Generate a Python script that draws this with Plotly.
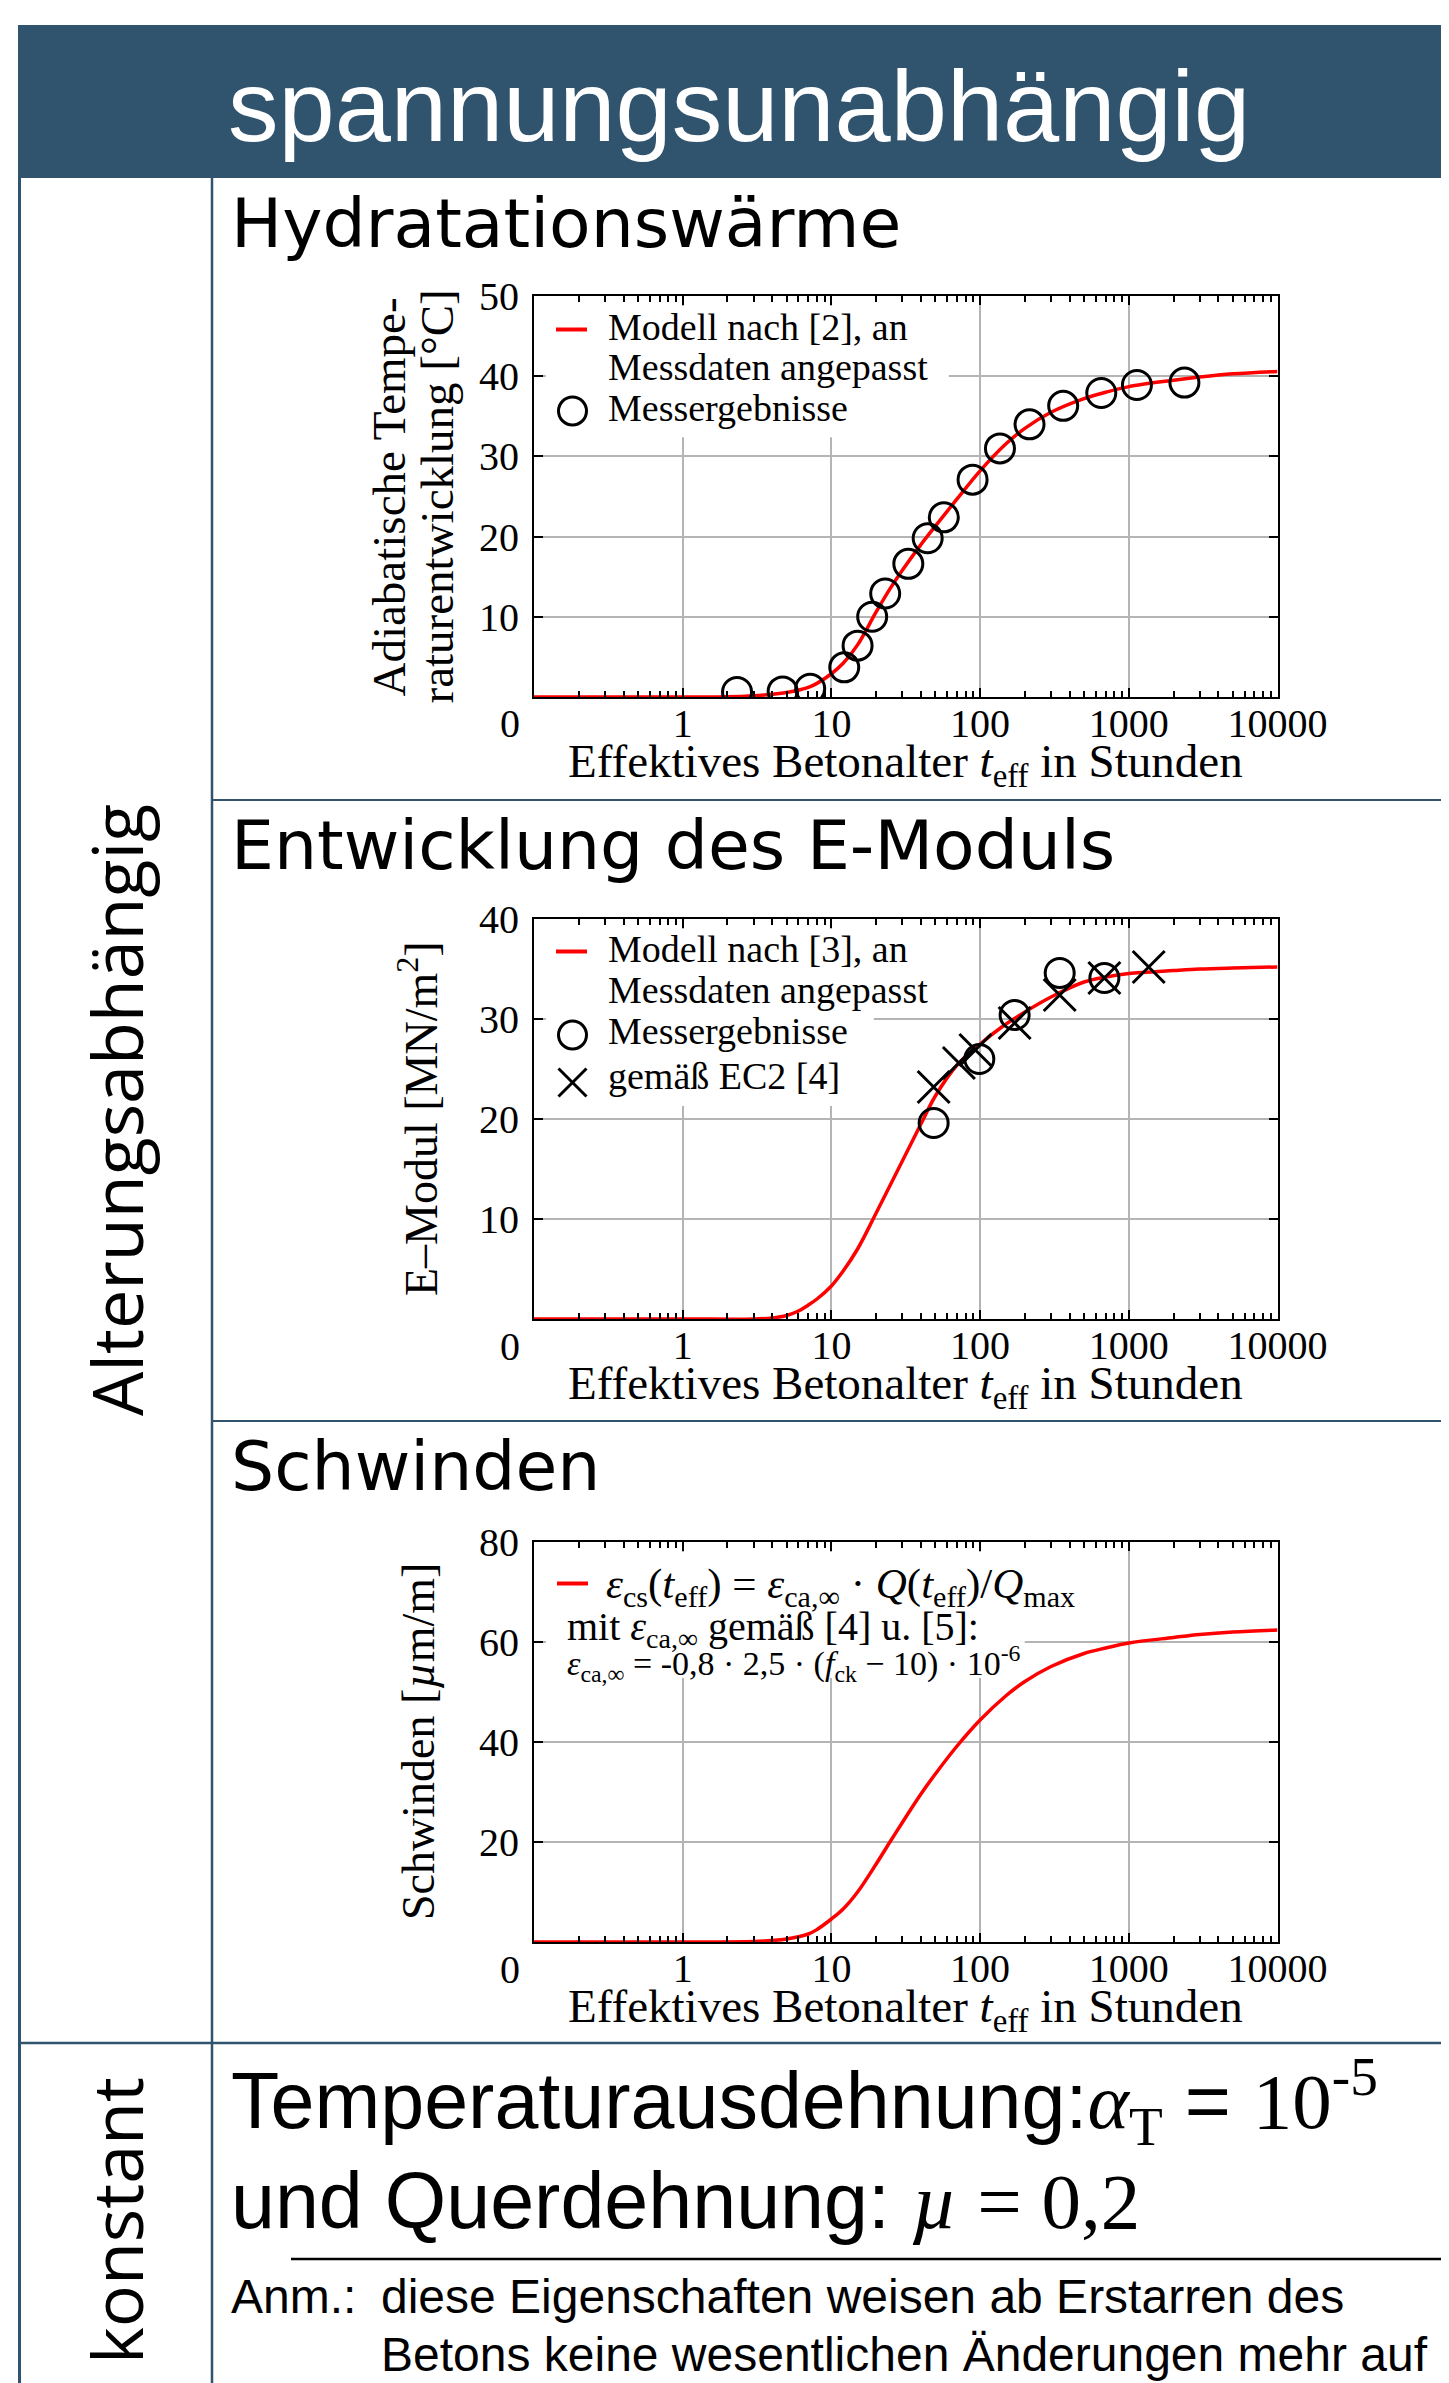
import plotly.graph_objects as go

# ------------------------------------------------------------------ data
# Hydratationswärme: adiabatic temperature rise [°C] vs effective age [h]
hyd_model_t = [0.1, 1, 2, 3, 4, 5, 7, 8, 10, 12, 15, 20, 25, 30, 40, 50, 70,
               100, 150, 200, 300, 500, 700, 1000, 2000, 3000, 5000, 10000]
hyd_model_T = [0, 0, 0.02, 0.15, 0.33, 0.55, 1.2, 1.7, 2.9, 4.2, 6.5, 10.6,
               13.6, 15.8, 19.0, 21.3, 24.7, 28.2, 31.6, 33.5, 35.5, 37.2,
               38.0, 38.7, 39.5, 39.9, 40.3, 40.6]
hyd_meas_t = [2.32, 4.7, 7.2, 12.2, 15.0, 18.8, 23.0, 32.9, 44.4, 57.0, 89,
              136, 215, 362, 653, 1134, 2366]
hyd_meas_T = [0.62, 0.7, 1.03, 3.7, 6.4, 10.0, 12.9, 16.6, 19.8, 22.4, 27.1,
              31.0, 34.0, 36.3, 37.9, 38.9, 39.2]

# E-Modul [MN/m²]
emod_model_t = [0.1, 1, 3, 4, 5, 6, 7, 8, 10, 12, 15, 20, 30, 40, 50, 70, 100,
                140, 200, 300, 500, 700, 1000, 2000, 3000, 5000, 10000]
emod_model_E = [0, 0, 0, 0.1, 0.35, 0.8, 1.4, 2.0, 3.3, 4.8, 7.0, 10.6, 15.8,
                19.5, 22.3, 25.4, 27.5, 29.2, 30.7, 32.2, 33.7, 34.2, 34.55,
                34.85, 35.0, 35.1, 35.2]
emod_meas_t = [48.7, 98.8, 170.7, 343, 685]
emod_meas_E = [19.6, 26.0, 30.4, 34.6, 34.1]
emod_ec2_t = [48.7, 72, 93, 170.7, 343, 685, 1361]
emod_ec2_E = [23.2, 25.6, 26.9, 29.6, 32.4, 34.1, 35.2]

# Schwinden [µm/m]
shr_model_t = [0.1, 1, 3, 4, 5, 7, 8, 10, 12, 15, 20, 25, 30, 40, 50, 70, 100,
               150, 200, 300, 500, 700, 1000, 2000, 3000, 5000, 10000]
shr_model_S = [0, 0, 0.1, 0.3, 0.6, 1.6, 2.5, 4.6, 6.6, 10.0, 15.6, 20.2,
               23.9, 29.6, 33.6, 39.2, 44.4, 49.3, 52.1, 55.1, 57.7, 58.8,
               59.8, 60.9, 61.5, 62.0, 62.4]

# ticks
x_tick_vals = [1, 10, 100, 1000, 10000]
x_tick_text = ["1", "10", "100", "1000", "10000"]
x_minor_vals = [m * 10.0 ** e for e in range(-1, 4) for m in range(2, 10)]
hyd_y_ticks = [10, 20, 30, 40, 50]
emod_y_ticks = [10, 20, 30, 40]
shr_y_ticks = [20, 40, 60, 80]

# ------------------------------------------------------------------ layout helpers
OFF = 8                      # default page margin of the html body
FW, FH = 1449, 2383
RIGHT, BOTTOM = OFF + FW, OFF + FH      # page coords of the figure edges
BLUE = "#31546E"
SERIF = "Liberation Serif"
SANS = "Liberation Sans"
RED = "#FF0000"


def px(x):
    return (x - OFF) / FW


def py(y):
    return 1 - (y - OFF) / FH


AX_X0, AX_X1 = 534, 1277.5
plots = [
    dict(top=296, bot=697, yr=[0, 50], yt=hyd_y_ticks),
    dict(top=919, bot=1319, yr=[0, 40], yt=emod_y_ticks),
    dict(top=1542, bot=1942, yr=[0, 80], yt=shr_y_ticks),
]

fig = go.Figure()

layout = dict(width=FW, height=FH, autosize=False,
              margin=dict(l=0, r=0, t=0, b=0, pad=0, autoexpand=False),
              paper_bgcolor="white", plot_bgcolor="white", showlegend=False)

for i, p in enumerate(plots, start=1):
    sfx = "" if i == 1 else str(i)
    layout["xaxis" + sfx] = dict(
        domain=[px(AX_X0), px(AX_X1)], anchor="y" + sfx, type="log",
        range=[-1, 4], tickmode="array", tickvals=x_tick_vals,
        ticktext=x_tick_text, ticks="inside", ticklen=9, tickwidth=2,
        tickcolor="black", showline=True, linecolor="black", linewidth=2,
        mirror="ticks", showgrid=True, gridcolor="#b4b4b4", gridwidth=1.5,
        zeroline=False, ticklabelstandoff=-10, automargin=False,
        tickfont=dict(family=SERIF, size=40, color="black"),
        minor=dict(tickmode="array", tickvals=x_minor_vals, ticks="inside",
                   ticklen=6, tickwidth=1.5, tickcolor="black",
                   showgrid=False),
    )
    layout["yaxis" + sfx] = dict(
        domain=[py(p["bot"]), py(p["top"])], anchor="x" + sfx,
        range=p["yr"], tickmode="array", tickvals=p["yt"],
        ticks="inside", ticklen=9, tickwidth=2, tickcolor="black",
        showline=True, linecolor="black", linewidth=2, mirror="ticks",
        showgrid=True, gridcolor="#b4b4b4", gridwidth=1.5, zeroline=False,
        ticklabelstandoff=5, automargin=False,
        tickfont=dict(family=SERIF, size=40, color="black"),
    )

fig.update_layout(**layout)

# ------------------------------------------------------------------ traces
line_style = dict(color=RED, width=3.5, shape="spline", smoothing=1.0)
circle_style = dict(symbol="circle-open", size=29, color="black",
                    line=dict(color="black", width=3))
x_style = dict(symbol="x-thin-open", size=32, color="black",
               line=dict(color="black", width=3))

fig.add_trace(go.Scatter(x=hyd_model_t, y=hyd_model_T, mode="lines",
                         line=line_style, xaxis="x", yaxis="y",
                         name="Modell nach [2], an Messdaten angepasst"))
fig.add_trace(go.Scatter(x=hyd_meas_t, y=hyd_meas_T, mode="markers",
                         marker=circle_style, xaxis="x", yaxis="y",
                         name="Messergebnisse"))

fig.add_trace(go.Scatter(x=emod_model_t, y=emod_model_E, mode="lines",
                         line=line_style, xaxis="x2", yaxis="y2",
                         name="Modell nach [3], an Messdaten angepasst"))
fig.add_trace(go.Scatter(x=emod_meas_t, y=emod_meas_E, mode="markers",
                         marker=circle_style, xaxis="x2", yaxis="y2",
                         name="Messergebnisse"))
fig.add_trace(go.Scatter(x=emod_ec2_t, y=emod_ec2_E, mode="markers",
                         marker=x_style, xaxis="x2", yaxis="y2",
                         name="gemäß EC2 [4]"))

fig.add_trace(go.Scatter(x=shr_model_t, y=shr_model_S, mode="lines",
                         line=line_style, xaxis="x3", yaxis="y3",
                         name="ε_cs(t_eff)"))

# ------------------------------------------------------------------ shapes
shapes = []


def hline(y, x0, x1, color, width):
    shapes.append(dict(type="line", xref="paper", yref="paper",
                       x0=px(x0), x1=px(x1), y0=py(y), y1=py(y),
                       line=dict(color=color, width=width)))


def vline(x, y0, y1, color, width):
    shapes.append(dict(type="line", xref="paper", yref="paper",
                       x0=px(x), x1=px(x), y0=py(y0), y1=py(y1),
                       line=dict(color=color, width=width)))


# header band
shapes.append(dict(type="rect", xref="paper", yref="paper",
                   x0=px(18), x1=px(RIGHT), y0=py(178), y1=py(25),
                   fillcolor=BLUE, line=dict(width=0), layer="below"))
vline(19.5, 176, BOTTOM, BLUE, 3)
vline(212, 176, BOTTOM, BLUE, 2.5)
hline(800, 212, RIGHT, BLUE, 2)
hline(1421, 212, RIGHT, BLUE, 2)
hline(2043, 18, RIGHT, BLUE, 2.5)
hline(2259, 291, RIGHT, "black", 2.5)

# white legend areas (hide the grid where the legend sits)
legend_boxes = [(1, 0.558, 0.648), (2, 0.457, 0.5325), (3, 0.66, 0.66)]
for i, xr, yb in legend_boxes:
    sfx = "" if i == 1 else str(i)
    shapes.append(dict(type="rect", xref="x" + sfx + " domain",
                       yref="y" + sfx + " domain", x0=0.016, x1=xr,
                       y0=yb, y1=0.975, fillcolor="white",
                       line=dict(width=0), layer="above"))


# legend keys
def key_line(y, x0=556, x1=587):
    shapes.append(dict(type="line", xref="paper", yref="paper",
                       x0=px(x0), x1=px(x1), y0=py(y), y1=py(y),
                       line=dict(color=RED, width=4)))


def key_circle(cx, cy, r=14):
    shapes.append(dict(type="circle", xref="paper", yref="paper",
                       x0=px(cx - r), x1=px(cx + r), y0=py(cy + r),
                       y1=py(cy - r), line=dict(color="black", width=3)))


def key_x(cx, cy, r=14):
    for s in (1, -1):
        shapes.append(dict(type="line", xref="paper", yref="paper",
                           x0=px(cx - r), x1=px(cx + r), y0=py(cy - s * r),
                           y1=py(cy + s * r),
                           line=dict(color="black", width=3)))


key_line(329.5)
key_circle(572.5, 411)
key_line(951.5)
key_circle(572.5, 1035)
key_x(572.5, 1082.5)
key_line(1583.5, 557, 588)

fig.update_layout(shapes=shapes)

# ------------------------------------------------------------------ annotations
anns = []


def ann(text, x, y, size, family, xanchor="left", color="black", angle=0):
    anns.append(dict(text=text, x=px(x), y=py(y), xref="paper", yref="paper",
                     xanchor=xanchor, yanchor="middle", showarrow=False,
                     textangle=angle, align="left",
                     font=dict(family=family, size=size, color=color)))


def base(b, size, k=0.34):
    return b - k * size


# header and row labels
ann("spannungsunabhängig", 739, base(140, 101), 101, SANS, "center", "white")
ann("Alterungsabhängig", 116, 1110, 70, "Open Sans", "center", angle=-90)
ann("konstant", 116, 2221, 70, "Open Sans", "center", angle=-90)

# section titles
for txt, b in [("Hydratationswärme", 247), ("Entwicklung des E-Moduls", 869),
               ("Schwinden", 1490)]:
    ann(txt, 229, base(b, 68), 68, "DejaVu Sans")

# axis titles / zero labels
xtitle = "Effektives Betonalter <i>t</i><sub>eff</sub> in Stunden"
for p in plots:
    ann(xtitle, (AX_X0 + AX_X1) / 2, base(p["bot"] + 80.5, 47, 0.27), 47,
        SERIF, "center")
    ann("0", 522, p["bot"] + 27, 40, SERIF, "right")

ymid = [(p["top"] + p["bot"]) / 2 for p in plots]
ann("Adiabatische Tempe-", 389, ymid[0], 47, SERIF, "center", angle=-90)
ann("raturentwicklung [°C]", 437, ymid[0], 47, SERIF, "center", angle=-90)
ann("E–Modul [MN/m<sup>2</sup>]", 418, ymid[1], 46, SERIF, "center", angle=-90)
ann("Schwinden [<i>µ</i>m/m]", 418, ymid[2], 46, SERIF, "center", angle=-90)

# legend texts
LX = 606
ann("Modell nach [2], an", LX, base(339.6, 38), 38, SERIF)
ann("Messdaten angepasst", LX, base(380, 38), 38, SERIF)
ann("Messergebnisse", LX, base(421, 38), 38, SERIF)
ann("Modell nach [3], an", LX, base(962.3, 38), 38, SERIF)
ann("Messdaten angepasst", LX, base(1002.8, 38), 38, SERIF)
ann("Messergebnisse", LX, base(1044.2, 38), 38, SERIF)
ann("gemäß EC2 [4]", LX, base(1089, 38), 38, SERIF)
ann("<i>ε</i><sub>cs</sub>(<i>t</i><sub>eff</sub>) = <i>ε</i><sub>ca,∞</sub>"
    " · <i>Q</i>(<i>t</i><sub>eff</sub>)/<i>Q</i><sub>max</sub>",
    LX - 2, base(1599, 43, 0.27), 43, SERIF)
ann("mit <i>ε</i><sub>ca,∞</sub> gemäß [4] u. [5]:", 565,
    base(1640, 40, 0.27), 40, SERIF)
ann("<i>ε</i><sub>ca,∞</sub> = -0,8 · 2,5 · (<i>f</i><sub>ck</sub> − 10)"
    " · 10<sup>-6</sup>", 565, base(1675, 34), 34, SERIF)

# constant properties
SER = "<span style='font-family:Liberation Serif'>"
ann("Temperaturausdehnung:" + SER + "<i>α</i><sub>T</sub></span> = " + SER
    + "10<sup>-5</sup></span>", 229, base(2128, 79), 79, SANS)
ann("und Querdehnung: " + SER + "<i>µ</i> = 0,2</span>", 229,
    base(2227, 79), 79, SANS)
ann("Anm.:", 229, base(2313, 48), 48, SANS)
ann("diese Eigenschaften weisen ab Erstarren des", 379, base(2313, 48), 48,
    SANS)
ann("Betons keine wesentlichen Änderungen mehr auf", 379, base(2371, 48),
    48, SANS)

fig.update_layout(annotations=anns)

fig.write_html("out.html")
